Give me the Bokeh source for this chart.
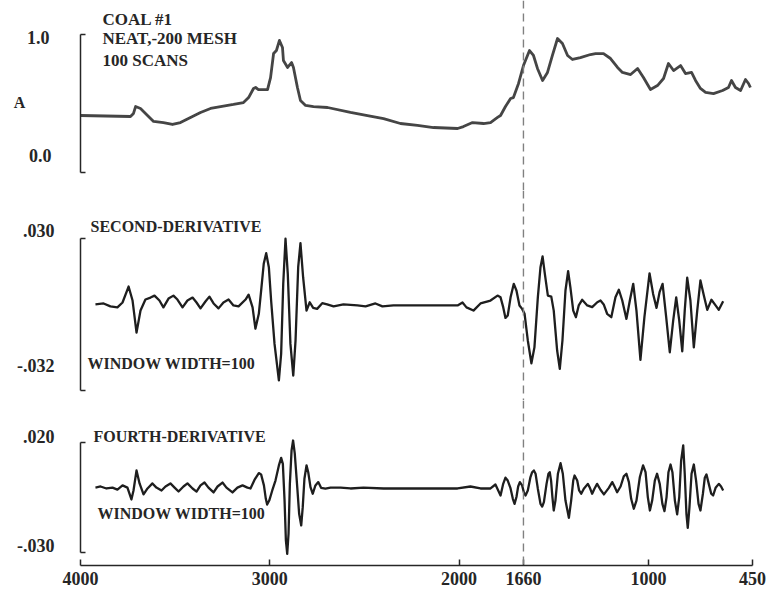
from bokeh.plotting import figure
from bokeh.layouts import column
from bokeh.models import Range1d, FixedTicker, Span, Label
from bokeh.embed import file_html
from bokeh.resources import INLINE

# --- Absorbance spectrum (cm^-1, A) ---
abs_wn = [4000, 3736, 3720, 3709, 3683, 3646, 3614, 3562, 3514, 3472, 3419, 3366,
          3313, 3260, 3192, 3139, 3112, 3086, 3075, 3060, 3049, 3012, 2996, 2980,
          2965, 2949, 2933, 2928, 2906, 2885, 2875, 2854, 2838, 2811, 2769, 2695,
          2574, 2484, 2399, 2310, 2220, 2135, 2008, 1977, 1929, 1871, 1834, 1797,
          1781, 1755, 1728, 1713, 1686, 1660, 1628, 1607, 1586, 1559, 1533, 1507,
          1480, 1454, 1427, 1401, 1359, 1306, 1279, 1237, 1200, 1163, 1137, 1094,
          1057, 1026, 989, 952, 920, 894, 867, 830, 804, 772, 751, 725, 698, 656,
          608, 577, 561, 540, 513, 487, 471, 461]
abs_a = [0.413, 0.406, 0.428, 0.478, 0.464, 0.413, 0.370, 0.362, 0.348, 0.362, 0.399, 0.435,
         0.464, 0.478, 0.493, 0.507, 0.543, 0.609, 0.616, 0.601, 0.601, 0.601, 0.688, 0.862,
         0.884, 0.957, 0.906, 0.812, 0.761, 0.797, 0.761, 0.616, 0.522, 0.486, 0.478, 0.471,
         0.435, 0.413, 0.391, 0.355, 0.341, 0.326, 0.319, 0.333, 0.362, 0.355, 0.362, 0.399,
         0.413, 0.478, 0.536, 0.543, 0.645, 0.775, 0.884, 0.848, 0.754, 0.667, 0.725, 0.848,
         0.971, 0.935, 0.848, 0.819, 0.833, 0.855, 0.862, 0.862, 0.826, 0.761, 0.725, 0.710,
         0.754, 0.688, 0.601, 0.630, 0.681, 0.790, 0.739, 0.775, 0.717, 0.725, 0.667, 0.609,
         0.580, 0.572, 0.594, 0.616, 0.667, 0.616, 0.594, 0.674, 0.645, 0.616]

# --- Second derivative ---
d2_wn = [3921, 3878, 3842, 3805, 3778, 3746, 3725, 3704, 3683, 3657, 3630, 3609, 3583,
         3562, 3535, 3509, 3488, 3461, 3435, 3408, 3387, 3366, 3340, 3319, 3297, 3271,
         3245, 3218, 3192, 3165, 3128, 3112, 3091, 3076, 3058, 3044, 3032, 3019, 3005,
         2993, 2975, 2952, 2940, 2929, 2917, 2905, 2891, 2876, 2864, 2850, 2838, 2824,
         2806, 2789, 2771, 2750, 2723, 2697, 2663, 2611, 2537, 2494, 2442, 2405, 2347,
         2220, 2114, 2008, 1982, 1961, 1924, 1887, 1834, 1797, 1781, 1767, 1755, 1743,
         1728, 1711, 1697, 1681, 1667, 1654, 1637, 1618, 1602, 1584, 1570, 1559, 1547,
         1531, 1513, 1500, 1482, 1468, 1454, 1438, 1424, 1412, 1397, 1383, 1368, 1350,
         1323, 1297, 1270, 1253, 1236, 1218, 1196, 1174, 1156, 1138, 1116, 1098, 1080,
         1063, 1042, 1021, 994, 975, 957, 941, 925, 906, 887, 869, 853, 837, 821, 808,
         795, 778, 760, 742, 725, 707, 689, 667, 645, 628, 605]
d2_val = [0.0031, 0.0035, 0.0023, 0.0019, 0.0039, 0.0104, 0.0047, -0.0084, 0.0006, 0.0051,
          0.0059, 0.0067, 0.0047, 0.0019, 0.0055, 0.0067, 0.0051, 0.0019, 0.0047, 0.0059,
          0.0039, 0.0015, 0.0043, 0.0063, 0.0035, 0.0015, 0.0039, 0.0051, 0.0027, 0.0023,
          0.0051, 0.0071, 0.0019, -0.0068, -0.0007, 0.0101, 0.0197, 0.0240, 0.0183,
          0.0047, -0.0130, -0.0279, -0.0170, 0.0115, 0.0299, 0.0156, -0.0130, -0.0259,
          -0.0116, 0.0183, 0.0281, 0.0142, 0.0006, 0.0040, 0.0017, 0.0013, 0.0036, 0.0031,
          0.0023, 0.0031, 0.0027, 0.0023, 0.0035, 0.0023, 0.0027, 0.0027, 0.0027, 0.0027,
          0.0039, 0.0019, 0.0006, 0.0035, 0.0047, 0.0067, 0.0060, 0.0020, -0.0024, -0.0014,
          0.0060, 0.0115, 0.0088, 0.0027, 0.0013, -0.0007, -0.0116, -0.0209, -0.0144,
          0.0060, 0.0183, 0.0227, 0.0156, 0.0067, 0.0063, 0.0006, -0.0157, -0.0232,
          -0.0116, 0.0088, 0.0167, 0.0101, 0.0006, -0.0021, 0.0027, 0.0050, 0.0027,
          0.0020, 0.0040, 0.0047, 0.0031, -0.0007, -0.0021, 0.0060, 0.0091, 0.0047,
          -0.0028, 0.0047, 0.0115, 0.0006, -0.0195, -0.0021, 0.0158, 0.0074, 0.0017,
          0.0081, 0.0115, -0.0021, -0.0164, -0.0035, 0.0060, -0.0035, -0.0160, 0.0006,
          0.0140, 0.0047, -0.0144, 0.0006, 0.0129, 0.0067, 0.0009, 0.0050, 0.0027, 0.0009,
          0.0044]

# --- Fourth derivative ---
d4_wn = [3921, 3894, 3863, 3831, 3805, 3778, 3752, 3731, 3720, 3704, 3688, 3667, 3646,
         3620, 3599, 3572, 3551, 3525, 3503, 3482, 3456, 3435, 3408, 3387, 3366, 3345,
         3324, 3297, 3276, 3250, 3229, 3197, 3171, 3144,
         3118, 3102, 3081, 3058, 3046, 3031, 3021, 3014, 3003, 2987, 2970, 2952, 2940,
         2931, 2922, 2915, 2908, 2901, 2894, 2885, 2877, 2868, 2855, 2845, 2834, 2826,
         2817, 2806, 2797, 2785, 2773, 2759, 2744, 2729, 2706, 2679, 2626, 2574, 2505,
         2399, 2310, 2220, 2114, 2008, 1940, 1887, 1834, 1808,
         1781, 1767, 1755, 1743, 1729, 1716, 1707, 1697, 1688, 1679, 1667, 1658, 1649,
         1637, 1623, 1614, 1605, 1596, 1584, 1570, 1561, 1552, 1538, 1528, 1521, 1514,
         1507, 1500, 1491, 1478, 1464, 1452, 1438, 1420, 1408, 1397, 1390, 1376, 1366,
         1355, 1341, 1320, 1309, 1297, 1285, 1271, 1253, 1235, 1209, 1191, 1179, 1165,
         1147, 1130, 1116, 1103, 1091, 1077, 1063, 1045, 1028, 1015, 1003, 992, 980,
         966, 954, 940, 926, 915, 904, 894, 883, 873, 860, 848, 837, 827, 816, 808, 799,
         792, 783, 772, 760, 748, 735, 725, 712, 702, 693, 681, 668, 658, 645, 628, 616,
         605]
d4_val = [-0.0005, 0.0000, -0.0009, -0.0005, -0.0014, 0.0005, -0.0005, -0.0059, -0.0018,
          0.0073, 0.0014, -0.0036, -0.0009, 0.0014, -0.0005, -0.0018, 0.0000, 0.0014,
          -0.0005, -0.0023, 0.0000, 0.0014, -0.0009, -0.0023, 0.0005, 0.0018, -0.0005,
          -0.0027, 0.0000, 0.0018, -0.0005, -0.0027, -0.0005, 0.0005,
          -0.0005, -0.0009, 0.0030, 0.0061, 0.0055, 0.0005, -0.0056, -0.0082, -0.0064,
          -0.0018, 0.0027, 0.0096, 0.0130, 0.0103, -0.0064, -0.0245, -0.0306, -0.0215,
          0.0012, 0.0164, 0.0209, 0.0149, -0.0003, -0.0124, -0.0177, -0.0094, 0.0035,
          0.0096, 0.0065, -0.0003, -0.0033, 0.0005, 0.0020, -0.0006, -0.0010, -0.0005,
          -0.0005, -0.0009, -0.0005, -0.0009, -0.0009, -0.0009, -0.0009, -0.0009, 0.0000,
          -0.0009, -0.0009, 0.0009,
          -0.0041, 0.0012, 0.0040, 0.0027, -0.0006, -0.0056, -0.0079, -0.0048, 0.0000,
          0.0020, 0.0005, -0.0026, -0.0041, -0.0018, 0.0043, 0.0065, 0.0073, 0.0058,
          -0.0010, -0.0079, -0.0091, -0.0071, 0.0012, 0.0058, 0.0065, 0.0027, -0.0048,
          -0.0109, -0.0064, 0.0058, 0.0106, 0.0058, -0.0064, -0.0142, -0.0064, 0.0027,
          0.0050, 0.0027, -0.0018, -0.0033, -0.0010, 0.0012, -0.0006, -0.0033, -0.0010,
          0.0012, -0.0015, -0.0036, -0.0006, 0.0020, 0.0000, -0.0026, 0.0000, 0.0046,
          0.0058, 0.0020, -0.0056, -0.0101, -0.0064, 0.0043, 0.0096, 0.0065, -0.0048,
          -0.0109, -0.0064, 0.0027, 0.0058, 0.0012, -0.0079, -0.0112, -0.0048, 0.0065,
          0.0100, 0.0065, -0.0064, -0.0127, -0.0048, 0.0118, 0.0187, 0.0058, -0.0124,
          -0.0188, -0.0094, 0.0058, 0.0100, 0.0027, -0.0079, -0.0109, -0.0033, 0.0040,
          0.0055, 0.0012, -0.0033, -0.0041, -0.0006, 0.0012, 0.0000, -0.0018]

x_ticks = [4000, 3000, 2000, 1660, 1000, 450]
marker_wn = 1660

SERIF = "Liberation Serif"
INK = "#262626"

x_range = Range1d(4000, 450)


def make_panel(height, y_lo, y_hi, bracket, bottom=0, x_axis=None):
    p = figure(width=766, height=height, x_range=x_range, y_range=Range1d(y_lo, y_hi),
               output_backend="svg", toolbar_location=None, x_axis_location=x_axis,
               min_border_left=80, min_border_right=14, min_border_top=0,
               min_border_bottom=bottom)
    p.outline_line_color = None
    p.grid.visible = False
    p.background_fill_color = "white"
    ax = p.yaxis[0]
    ax.bounds = bracket
    ax.ticker = FixedTicker(ticks=list(bracket))
    ax.major_tick_in = 5
    ax.major_tick_out = 0
    ax.major_tick_line_width = 1.5
    ax.major_tick_line_color = INK
    ax.minor_tick_line_color = None
    ax.major_label_text_color = None
    ax.axis_line_width = 1.5
    ax.axis_line_color = INK
    p.add_layout(Span(location=marker_wn, dimension="height", line_color="#808080",
                      line_dash="8 5", line_width=1.4))
    return p


def text(p, s, x, y, size, align="left"):
    p.add_layout(Label(x=x, y=y, text=s, text_align=align, text_baseline="middle",
                       text_font=SERIF, text_font_style="bold", text_font_size=size,
                       text_color=INK))


def side_text(p, s, x, y, size="18px", align="right"):
    # Value labels in the left margin. Each one sits in its own slot of the
    # margin stack, so x is measured from the left edge of that slot.
    p.add_layout(Label(x=x, y=y, x_units="screen", y_units="screen", text=s,
                       text_align=align, text_baseline="middle", text_font=SERIF,
                       text_font_style="bold", text_font_size=size, text_color=INK),
                 "left")


# Absorbance panel
p1 = make_panel(190, -0.1304, 1.2464, (0.0, 1.0))
p1.line(abs_wn, abs_a, line_color="#454545", line_width=2.8, line_join="round")
side_text(p1, "1.0", -8, 153)
side_text(p1, "0.0", 17, 35)
side_text(p1, "A", -3, 88, size="16px", align="center")
text(p1, "COAL #1", 3884, 1.109, "17px")
text(p1, "NEAT,-200 MESH", 3884, 0.971, "17px")
text(p1, "100 SCANS", 3884, 0.812, "17px")

# Second-derivative panel
p2 = make_panel(210, -0.03608, 0.04958, (-0.032, 0.030))
p2.line(d2_wn, d2_val, line_color="#1e1e1e", line_width=2.3, line_join="round")
side_text(p2, ".030", 6, 170)
side_text(p2, "-.032", 43, 35)
text(p2, "SECOND-DERIVATIVE", 3947, 0.0349, "16px")
text(p2, "WINDOW WIDTH=100", 3963, -0.0210, "16px")

# Fourth-derivative panel, carrying the wavenumber axis
p3 = make_panel(196, -0.03591, 0.03909, (-0.030, 0.020), bottom=31, x_axis="below")
p3.line(d4_wn, d4_val, line_color="#1e1e1e", line_width=2.3, line_join="round")
side_text(p3, ".020", 6, 129)
side_text(p3, "-.030", 43, 20)
text(p3, "FOURTH-DERIVATIVE", 3931, 0.0227, "16px")
text(p3, "WINDOW WIDTH=100", 3910, -0.0123, "16px")

xa = p3.xaxis[0]
xa.ticker = FixedTicker(ticks=x_ticks)
xa.major_tick_in = 6
xa.major_tick_out = 0
xa.major_tick_line_width = 1.5
xa.major_tick_line_color = INK
xa.minor_tick_line_color = None
xa.axis_line_width = 1.5
xa.axis_line_color = INK
xa.major_label_standoff = 6
xa.major_label_text_font = SERIF
xa.major_label_text_font_style = "bold"
xa.major_label_text_font_size = "18px"
xa.major_label_text_color = INK

layout = column(p1, p2, p3, spacing=0)
open("out.html", "w").write(file_html(layout, INLINE))
